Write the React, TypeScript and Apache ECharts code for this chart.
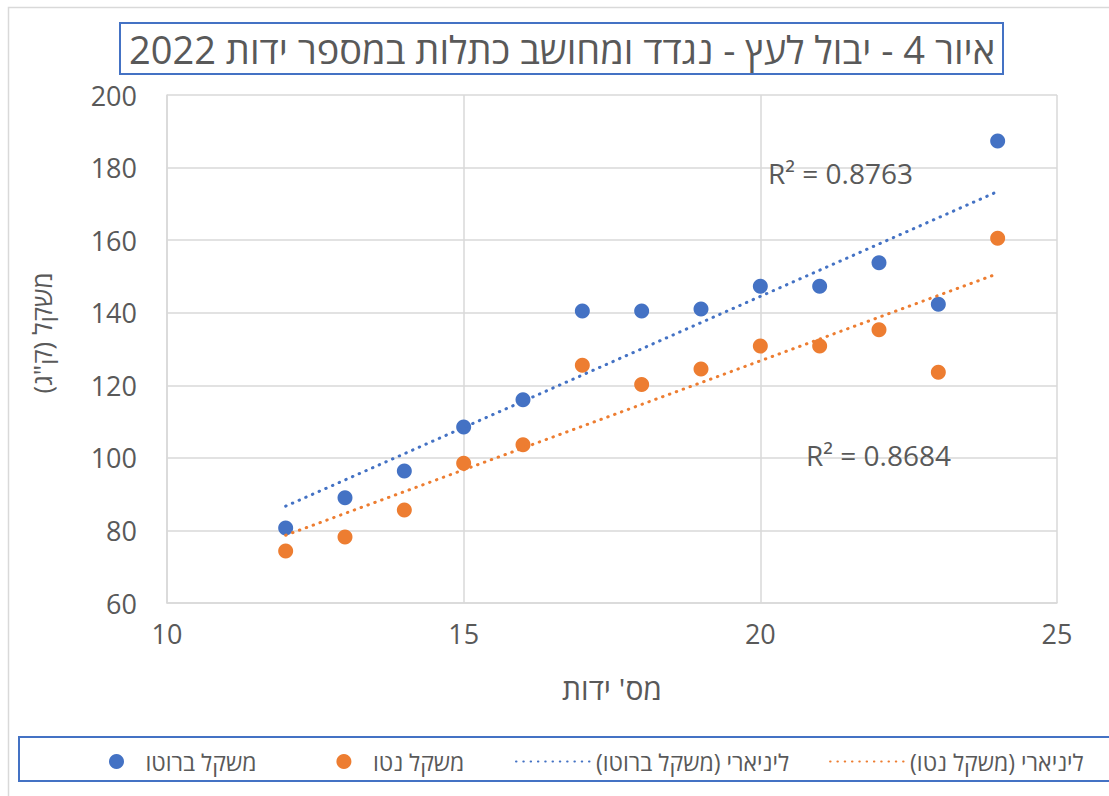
import React, { useEffect, useRef } from "react";
import * as echarts from "echarts";

const RTL = (s: string) => "\u202B" + s + "\u202C";

const handleCounts = [12, 13, 14, 15, 16, 17, 18, 19, 20, 21, 22, 23, 24];
const grossWeight = [80.7, 89.0, 96.4, 108.5, 116.0, 140.5, 140.5, 141.0, 147.3, 147.3, 153.8, 142.3, 187.3];
const netWeight = [74.3, 78.2, 85.6, 98.5, 103.6, 125.5, 120.2, 124.5, 130.8, 130.8, 135.3, 123.6, 160.5];

const titleText = "איור 4 - יבול לעץ - נגדד ומחושב כתלות במספר ידות 2022";
const xAxisTitle = "מס' ידות";
const yAxisTitle = "משקל (ק\"ג)";
const grossName = RTL("משקל ברוטו");
const netName = RTL("משקל נטו");
const grossTrendName = RTL("ליניארי (משקל ברוטו)");
const netTrendName = RTL("ליניארי (משקל נטו)");
const grossR2 = "R² = 0.8763";
const netR2 = "R² = 0.8684";

const BLUE = "#4472c4";
const ORANGE = "#ed7d31";
const TEXT = "#595959";
const GRID = "#d9d9d9";
const FONT = "'Open Sans', 'Liberation Sans', Arial, sans-serif";

function linearFit(xs: number[], ys: number[]): number[][] {
  const n = xs.length;
  const mx = xs.reduce((a, b) => a + b, 0) / n;
  const my = ys.reduce((a, b) => a + b, 0) / n;
  let sxy = 0;
  let sxx = 0;
  for (let i = 0; i < n; i++) {
    sxy += (xs[i] - mx) * (ys[i] - my);
    sxx += (xs[i] - mx) * (xs[i] - mx);
  }
  const slope = sxy / sxx;
  const icpt = my - slope * mx;
  const x0 = Math.min(...xs);
  const x1 = Math.max(...xs);
  return [
    [x0, icpt + slope * x0],
    [x1, icpt + slope * x1],
  ];
}

export default function App() {
  const ref = useRef<HTMLDivElement>(null);

  useEffect(() => {
    if (!ref.current) return;
    const chart = echarts.init(ref.current, null, { renderer: "svg" });

    const grossPts = handleCounts.map((x, i) => [x, grossWeight[i]]);
    const netPts = handleCounts.map((x, i) => [x, netWeight[i]]);

    const dotted = { width: 3, type: [0.5, 6.8] as any, cap: "round" as const };

    chart.setOption({
      animation: false,
      backgroundColor: "#ffffff",
      textStyle: { fontFamily: FONT },
      grid: { left: 167, right: 52, top: 95, bottom: 193, containLabel: false },
      xAxis: {
        type: "value",
        min: 10,
        max: 25,
        interval: 5,
        axisLine: { show: true, lineStyle: { color: GRID, width: 1.5 } },
        axisTick: { show: false },
        splitLine: { show: true, lineStyle: { color: GRID, width: 1.5 } },
        axisLabel: { color: TEXT, fontSize: 27, margin: 17, fontFamily: FONT },
      },
      yAxis: {
        type: "value",
        min: 60,
        max: 200,
        interval: 20,
        axisLine: { show: true, lineStyle: { color: GRID, width: 1.5 } },
        axisTick: { show: false },
        splitLine: { show: true, lineStyle: { color: GRID, width: 1.5 } },
        axisLabel: { color: TEXT, fontSize: 27, margin: 30, fontFamily: FONT },
      },
      legend: [
        {
          data: [grossName, netName],
          left: 104,
          top: 745,
          orient: "horizontal",
          itemWidth: 48,
          itemHeight: 15,
          itemGap: 80,
          icon: "circle",
          textStyle: { color: TEXT, fontSize: 23, fontFamily: FONT },
        },
        {
          data: [grossTrendName, netTrendName],
          left: 510,
          top: 745,
          orient: "horizontal",
          itemWidth: 75,
          itemHeight: 15,
          itemGap: 40,
          itemStyle: { opacity: 0 },
          textStyle: { color: TEXT, fontSize: 23, fontFamily: FONT },
        },
      ],
      series: [
        {
          name: grossName,
          type: "scatter",
          data: grossPts,
          symbol: "circle",
          symbolSize: 15,
          itemStyle: { color: BLUE, opacity: 1 },
        },
        {
          name: netName,
          type: "scatter",
          data: netPts,
          symbol: "circle",
          symbolSize: 15,
          itemStyle: { color: ORANGE, opacity: 1 },
        },
        {
          name: grossTrendName,
          type: "line",
          data: linearFit(handleCounts, grossWeight),
          symbol: "none",
          showSymbol: false,
          lineStyle: { ...dotted, color: BLUE },
          itemStyle: { color: BLUE },
          z: 3,
        },
        {
          name: netTrendName,
          type: "line",
          data: linearFit(handleCounts, netWeight),
          symbol: "none",
          showSymbol: false,
          lineStyle: { ...dotted, color: ORANGE },
          itemStyle: { color: ORANGE },
          z: 3,
        },
      ],
      graphic: [
        {
          type: "rect",
          silent: true,
          shape: { x: 8.5, y: 7.5, width: 1200, height: 900 },
          style: { fill: "none", stroke: GRID, lineWidth: 1.5 },
          z: -10,
        },
        {
          type: "rect",
          silent: true,
          shape: { x: 120, y: 23, width: 883, height: 51 },
          style: { fill: "#ffffff", stroke: BLUE, lineWidth: 2 },
        },
        {
          type: "text",
          silent: true,
          x: 562,
          y: 49,
          style: {
            text: RTL(titleText),
            fill: TEXT,
            font: `38px ${FONT}`,
            align: "center",
            verticalAlign: "middle",
          },
        },
        {
          type: "text",
          silent: true,
          x: 42,
          y: 333,
          rotation: Math.PI / 2,
          style: {
            text: RTL(yAxisTitle),
            fill: TEXT,
            font: `26px ${FONT}`,
            align: "center",
            verticalAlign: "middle",
          },
        },
        {
          type: "text",
          silent: true,
          x: 612,
          y: 688,
          style: {
            text: RTL(xAxisTitle),
            fill: TEXT,
            font: `30px ${FONT}`,
            align: "center",
            verticalAlign: "middle",
          },
        },
        {
          type: "text",
          silent: true,
          x: 768,
          y: 173,
          style: { text: grossR2, fill: TEXT, font: `28px ${FONT}`, align: "left", verticalAlign: "middle" },
          z: 10,
        },
        {
          type: "text",
          silent: true,
          x: 806,
          y: 455,
          style: { text: netR2, fill: TEXT, font: `28px ${FONT}`, align: "left", verticalAlign: "middle" },
          z: 10,
        },
        {
          type: "rect",
          silent: true,
          shape: { x: 19, y: 737, width: 1200, height: 44 },
          style: { fill: "none", stroke: BLUE, lineWidth: 2 },
        },
      ],
    });

    return () => chart.dispose();
  }, []);

  return (
    <div
      ref={ref}
      style={{ position: "absolute", left: 0, top: 0, width: 1109, height: 796 }}
    />
  );
}
